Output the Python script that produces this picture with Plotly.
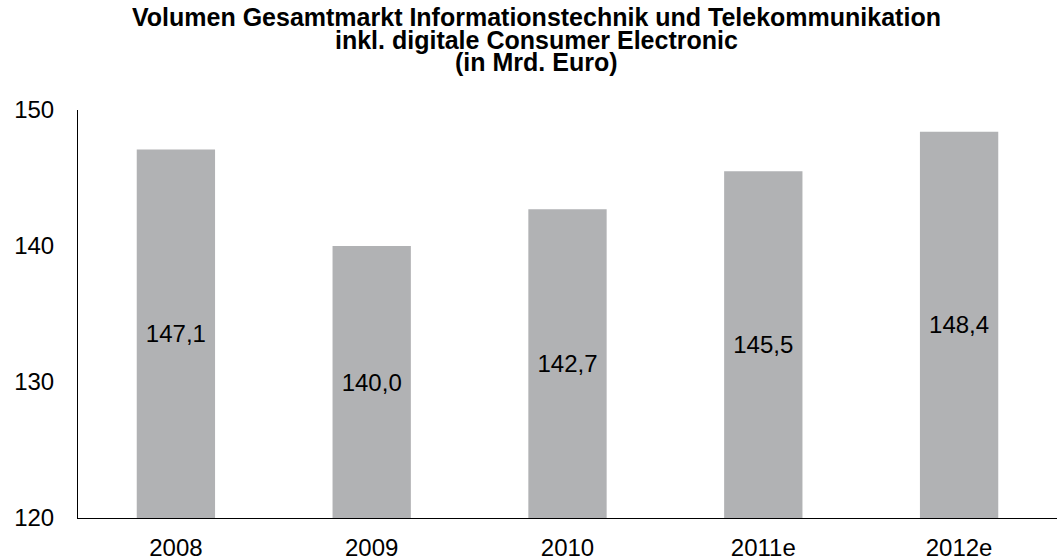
import plotly.graph_objects as go

categories = ["2008", "2009", "2010", "2011e", "2012e"]
values = [147.1, 140.0, 142.7, 145.5, 148.4]
labels = [f"{v:.1f}".replace(".", ",") for v in values]
y_ticks = [120, 130, 140, 150]
y_min, y_max = 120, 150
title_lines = [
    "Volumen Gesamtmarkt Informationstechnik und Telekommunikation",
    "inkl. digitale Consumer Electronic",
    "(in Mrd. Euro)",
]

FONT = "Liberation Sans, Arial"

fig = go.Figure(go.Bar(
    x=categories, y=[v - y_min for v in values], base=y_min,
    text=labels, textposition="inside", insidetextanchor="middle",
    textfont=dict(family=FONT, size=24, color="black"),
    marker=dict(color="#b1b2b4", line=dict(width=0)),
    width=0.4, cliponaxis=False,
))

plot_top, plot_bottom = 110, 518
title_px = [17, 40, 62]
for line, py in zip(title_lines, title_px):
    fig.add_annotation(
        text=f"<b>{line}</b>", xref="paper", yref="paper",
        x=0.468, y=(plot_bottom - py) / (plot_bottom - plot_top),
        xanchor="center", yanchor="middle", showarrow=False,
        font=dict(family=FONT, size=25, color="black"),
    )

fig.update_layout(
    width=1057, height=560,
    margin=dict(l=78, r=0, t=110, b=42),
    paper_bgcolor="white", plot_bgcolor="white",
    font=dict(family=FONT, size=24, color="black"),
    showlegend=False,
)
fig.update_yaxes(range=[y_min, y_max], tickvals=y_ticks, showgrid=False, zeroline=False,
                 showline=True, linecolor="black", linewidth=1, ticks="",
                 ticklabelstandoff=18, tickfont=dict(size=24), automargin=False)
fig.update_xaxes(showgrid=False, showline=True, linecolor="black", linewidth=1, ticks="",
                 ticklabelstandoff=8, tickfont=dict(size=24), automargin=False)
fig.write_html("out.html", config={"displayModeBar": False},
               post_script="document.body.style.margin='0';document.body.style.padding='0';")
